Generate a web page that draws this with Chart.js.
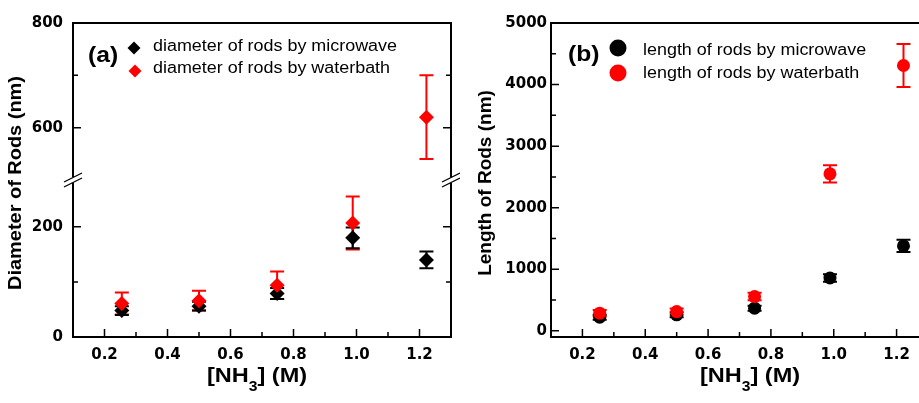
<!DOCTYPE html>
<html>
<head>
<meta charset="utf-8">
<script src="https://cdn.jsdelivr.net/npm/chart.js@4.4.1/dist/chart.umd.min.js"></script>
<style>
  html, body { margin: 0; padding: 0; background: #fff; width: 919px; height: 403px; overflow: hidden; }
  canvas { position: absolute; top: 0; }
</style>
</head>
<body>
<canvas id="chartA" width="460" height="403" style="left:0"></canvas>
<canvas id="chartB" width="475" height="403" style="left:460px"></canvas>
<script>
// NH3 concentration (M)
let conc = [0.255, 0.5, 0.748, 0.988, 1.222];

// (a) diameter of rods (nm)
let diaMicro = [48, 56, 79, 180, 140];
let diaMicroErr = [8, 8, 10, 19, 15];
let diaWater = [61, 66, 94, 207, 620];
let diaWaterErr = [20, 18, 25, 48, 80];

// (b) length of rods (nm)
let lenMicro = [222, 260, 368, 858, 1380];
let lenMicroErr = [40, 40, 40, 60, 100];
let lenWater = [287, 313, 557, 2550, 4310];
let lenWaterErr = [50, 50, 60, 140, 350];

// ticks
let xTicks = [0.2, 0.4, 0.6, 0.8, 1.0, 1.2];
let xMinor = [0.3, 0.5, 0.7, 0.9, 1.1];
let diaLowTicks = [0, 200];
let diaLowMinor = [100];
let diaHighTicks = [600, 800];
let diaHighMinor = [700];
let lenTicks = [0, 1000, 2000, 3000, 4000, 5000];
let lenMinor = [500, 1500, 2500, 3500, 4500];

let labelsA = ['diameter of rods by microwave', 'diameter of rods by waterbath'];
let labelsB = ['length of rods by microwave', 'length of rods by waterbath'];

const RED = '#ff0000';
const BLACK = '#000000';
const LOW_MAX = 285;   // top of the lower part of the broken axis
const HIGH_MIN = 500;  // bottom of the upper part

function pts(ys, errs, keep) {
  let out = [];
  for (let i = 0; i < conc.length; i++) {
    if (!keep || keep(ys[i])) out.push({ x: conc[i], y: ys[i], err: errs[i] });
  }
  return out;
}

function stretchText(ctx, text, x, y, sx) {
  ctx.save();
  ctx.translate(x, y);
  ctx.scale(sx, 1);
  ctx.fillText(text, 0, 0);
  ctx.restore();
}

// error bars, drawn under the markers
const errorBars = {
  id: 'errorBars',
  beforeDatasetsDraw(chart) {
    const ctx = chart.ctx;
    ctx.save();
    chart.data.datasets.forEach((ds, i) => {
      const xs = chart.scales[ds.xAxisID || 'x'];
      const ys = chart.scales[ds.yAxisID];
      ctx.strokeStyle = ds.backgroundColor;
      ctx.lineWidth = 2;
      ds.data.forEach(p => {
        const px = xs.getPixelForValue(p.x);
        const top = ys.getPixelForValue(p.y + p.err);
        const bot = ys.getPixelForValue(p.y - p.err);
        const cap = ds.capHalf || 7;
        ctx.beginPath();
        ctx.moveTo(px, top); ctx.lineTo(px, bot);
        ctx.moveTo(px - cap, top); ctx.lineTo(px + cap, top);
        ctx.moveTo(px - cap, bot); ctx.lineTo(px + cap, bot);
        ctx.stroke();
      });
    });
    ctx.restore();
  }
};

// box, inward ticks, axis break
const frame = {
  id: 'frame',
  afterDraw(chart, args, opts) {
    const ctx = chart.ctx, a = chart.chartArea;
    ctx.save();
    ctx.strokeStyle = '#000';
    ctx.lineWidth = 2;
    const brk = opts.breakBetween ? chart.scales[opts.breakBetween[0]].top : null;
    const gap = 3;
    ctx.beginPath();
    ctx.moveTo(a.left - 1, a.top); ctx.lineTo(a.right + 1, a.top);
    ctx.moveTo(a.left - 1, a.bottom); ctx.lineTo(a.right + 1, a.bottom);
    [a.left, a.right].forEach(x => {
      if (brk !== null) {
        ctx.moveTo(x, a.top); ctx.lineTo(x, brk - gap);
        ctx.moveTo(x, brk + gap); ctx.lineTo(x, a.bottom);
      } else {
        ctx.moveTo(x, a.top); ctx.lineTo(x, a.bottom);
      }
    });
    ctx.stroke();

    ctx.lineWidth = 1.5;
    ctx.beginPath();
    (opts.ticks || []).forEach(t => {
      const s = chart.scales[t.id];
      [[t.major, 8], [t.minor, 5]].forEach(([vals, len]) => {
        vals.forEach(v => {
          const p = s.getPixelForValue(v);
          if (s.isHorizontal()) {
            ctx.moveTo(p, a.bottom); ctx.lineTo(p, a.bottom - len);
          } else {
            ctx.moveTo(a.left, p); ctx.lineTo(a.left + len, p);
            if (opts.mirror) { ctx.moveTo(a.right, p); ctx.lineTo(a.right - len, p); }
          }
        });
      });
    });
    ctx.stroke();

    if (brk !== null) {
      ctx.lineWidth = 1.3;
      ctx.beginPath();
      [a.left, a.right].forEach(x => {
        [-2.5, 2.5].forEach(d => {
          ctx.moveTo(x - 9, brk + d + 4.5);
          ctx.lineTo(x + 9, brk + d - 4.5);
        });
      });
      ctx.stroke();
    }
    ctx.restore();
  }
};

// panel tag, legend and axis titles
const annot = {
  id: 'annot',
  afterDraw(chart, args, o) {
    const ctx = chart.ctx;
    ctx.save();
    ctx.fillStyle = '#000';
    ctx.textAlign = 'left';
    ctx.textBaseline = 'alphabetic';
    ctx.font = 'bold 22px "Liberation Sans", Arial, sans-serif';
    stretchText(ctx, o.tag, o.tagX, o.tagY, 1.12);

    o.items.forEach(it => {
      ctx.fillStyle = it.color;
      ctx.beginPath();
      if (it.shape === 'diamond') {
        ctx.moveTo(it.mx - it.r, it.my); ctx.lineTo(it.mx, it.my - it.r);
        ctx.lineTo(it.mx + it.r, it.my); ctx.lineTo(it.mx, it.my + it.r);
        ctx.closePath();
      } else {
        ctx.arc(it.mx, it.my, it.r, 0, Math.PI * 2);
      }
      ctx.fill();
      ctx.fillStyle = '#000';
      ctx.font = '16px "Liberation Sans", Arial, sans-serif';
      stretchText(ctx, it.label, it.tx, it.ty, 1.12);
    });

    // y title
    ctx.font = 'bold 19px "Liberation Sans", Arial, sans-serif';
    ctx.textAlign = 'center';
    ctx.textBaseline = 'middle';
    ctx.save();
    ctx.translate(o.yTitleX, o.yTitleY);
    ctx.rotate(-Math.PI / 2);
    ctx.scale(o.yTitleStretch || 1, 1);
    ctx.fillText(o.yTitle, 0, 0);
    ctx.restore();

    // x title with subscript
    ctx.textAlign = 'left';
    ctx.textBaseline = 'alphabetic';
    const big = 'bold 21px "Liberation Sans", Arial, sans-serif';
    const small = 'bold 14px "Liberation Sans", Arial, sans-serif';
    const parts = [['[NH', big, 0], ['3', small, 9], ['] (M)', big, 0]];
    const sx = 1.12;
    let w = 0;
    parts.forEach(p => { ctx.font = p[1]; w += ctx.measureText(p[0]).width * sx; });
    let x = o.xTitleX - w / 2;
    parts.forEach(p => {
      ctx.font = p[1];
      stretchText(ctx, p[0], x, o.xTitleY + p[2], sx);
      x += ctx.measureText(p[0]).width * sx;
    });
    ctx.restore();
  }
};

const tickFont = { family: '"DejaVu Sans", sans-serif', weight: 'bold', size: 15 };

function xScale() {
  return {
    type: 'linear', min: 0.1, max: 1.3,
    grid: { display: false, drawTicks: false }, border: { display: false },
    afterBuildTicks: s => { s.ticks = xTicks.map(v => ({ value: v })); },
    afterFit: s => { s.height = 66; },
    ticks: { font: tickFont, color: '#000', padding: 9, autoSkip: false, maxRotation: 0,
             callback: v => v.toFixed(1) }
  };
}

function yScale(min, max, tickVals, width, pad, extra) {
  return Object.assign({
    type: 'linear', position: 'left', min: min, max: max,
    grid: { display: false, drawTicks: false }, border: { display: false },
    afterBuildTicks: s => { s.ticks = tickVals.map(v => ({ value: v })); },
    afterFit: s => { s.width = width; },
    ticks: { font: tickFont, color: '#000', padding: pad, autoSkip: false, callback: v => String(v) }
  }, extra || {});
}

new Chart(document.getElementById('chartA'), {
  type: 'scatter',
  data: {
    datasets: [
      { label: labelsA[1], data: pts(diaWater, diaWaterErr, v => v <= LOW_MAX), yAxisID: 'yLow',
        backgroundColor: RED, pointStyle: 'rectRot', pointRadius: 7.5, borderWidth: 0, order: 0 },
      { label: labelsA[1], data: pts(diaWater, diaWaterErr, v => v > LOW_MAX), yAxisID: 'yHigh',
        backgroundColor: RED, pointStyle: 'rectRot', pointRadius: 7.5, borderWidth: 0, order: 0 },
      { label: labelsA[0], data: pts(diaMicro, diaMicroErr), yAxisID: 'yLow',
        backgroundColor: BLACK, pointStyle: 'rectRot', pointRadius: 7.5, borderWidth: 0, order: 1 }
    ]
  },
  options: {
    responsive: false,
    animation: false,
    layout: { padding: { left: 0, top: 23, right: 9, bottom: 0 } },
    scales: {
      x: xScale(),
      yHigh: yScale(HIGH_MIN, 800, diaHighTicks, 73, 10, { stack: 'dia', stackWeight: 1, weight: 2 }),
      yLow: yScale(0, LOW_MAX, diaLowTicks, 73, 10, { stack: 'dia', stackWeight: 1, weight: 1 })
    },
    plugins: {
      legend: { display: false },
      tooltip: { enabled: false },
      frame: {
        mirror: true,
        breakBetween: ['yLow', 'yHigh'],
        ticks: [
          { id: 'x', major: xTicks, minor: xMinor },
          { id: 'yLow', major: diaLowTicks, minor: diaLowMinor },
          { id: 'yHigh', major: diaHighTicks, minor: diaHighMinor }
        ]
      },
      annot: {
        tag: '(a)', tagX: 88, tagY: 62,
        items: [
          { label: labelsA[0], color: BLACK, shape: 'diamond', mx: 134, my: 48, r: 6.5, tx: 153, ty: 51 },
          { label: labelsA[1], color: RED, shape: 'diamond', mx: 135, my: 71, r: 6.5, tx: 153, ty: 73 }
        ],
        yTitle: 'Diameter of Rods (nm)', yTitleX: 16, yTitleY: 183, yTitleStretch: 1.05,
        xTitleX: 257, xTitleY: 382
      }
    }
  },
  plugins: [errorBars, frame, annot]
});

new Chart(document.getElementById('chartB'), {
  type: 'scatter',
  data: {
    datasets: [
      { label: labelsB[1], data: pts(lenWater, lenWaterErr), yAxisID: 'y',
        backgroundColor: RED, pointStyle: 'circle', pointRadius: 6.5, borderWidth: 0, order: 0 },
      { label: labelsB[0], data: pts(lenMicro, lenMicroErr), yAxisID: 'y',
        backgroundColor: BLACK, pointStyle: 'circle', pointRadius: 6.5, borderWidth: 0, order: 1 }
    ]
  },
  options: {
    responsive: false,
    animation: false,
    layout: { padding: { left: 0, top: 23, right: 7, bottom: 0 } },
    scales: {
      x: xScale(),
      y: yScale(-100, 5000, lenTicks, 91, 4)
    },
    plugins: {
      legend: { display: false },
      tooltip: { enabled: false },
      frame: {
        mirror: false,
        ticks: [
          { id: 'x', major: xTicks, minor: xMinor },
          { id: 'y', major: lenTicks, minor: lenMinor }
        ]
      },
      annot: {
        tag: '(b)', tagX: 108, tagY: 61,
        items: [
          { label: labelsB[0], color: BLACK, shape: 'circle', mx: 158, my: 48, r: 8.5, tx: 183, ty: 55 },
          { label: labelsB[1], color: RED, shape: 'circle', mx: 158, my: 73, r: 8.5, tx: 183, ty: 78 }
        ],
        yTitle: 'Length of Rods (nm)', yTitleX: 26, yTitleY: 183,
        xTitleX: 290, xTitleY: 382
      }
    }
  },
  plugins: [errorBars, frame, annot]
});
</script>
</body>
</html>
